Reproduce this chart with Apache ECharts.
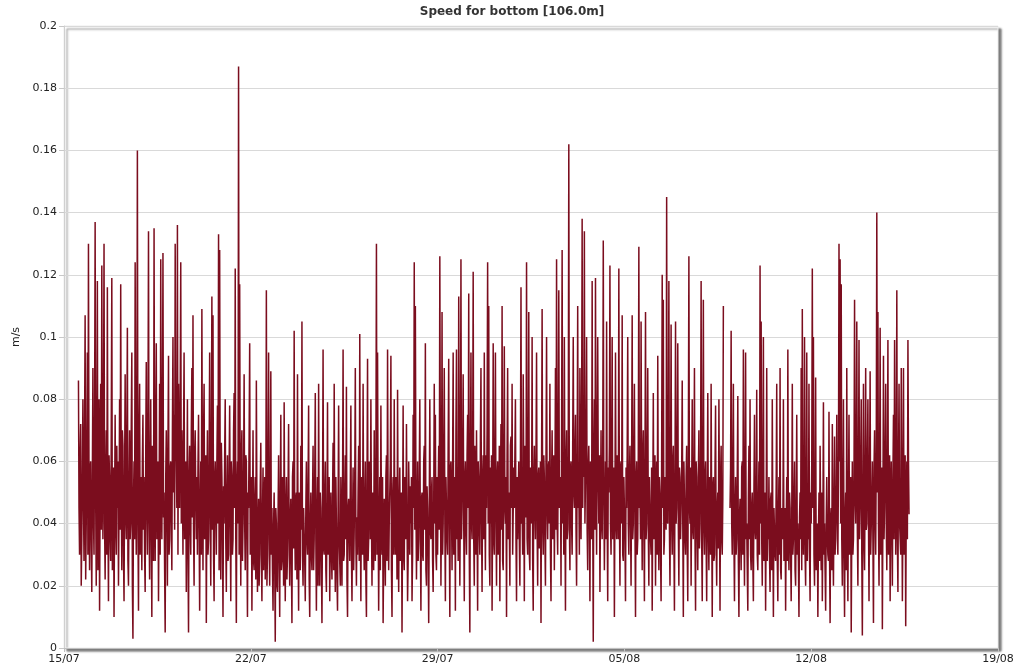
<!DOCTYPE html>
<html>
<head>
<meta charset="utf-8">
<script src="https://cdn.jsdelivr.net/npm/echarts@6/dist/echarts.min.js"></script>
<style>html,body{margin:0;padding:0;background:#fff}#chart{width:1024px;height:670px}</style>
</head>
<body>
<div id="chart"></div>
<script>
// Speed (mm/s), half-hourly samples, first sample 15/07 13:00.
// weekN holds the on-the-hour samples, weekNHalf the samples at half past.
const firstDayLabel = Date.UTC(2015, 6, 15);
const startHour = 13;
const stepHours = 0.5;
const xTickDays = [0, 7, 14, 21, 28, 35];
const yTicks = [0, 0.02, 0.04, 0.06, 0.08, 0.1, 0.12, 0.14, 0.16, 0.18, 0.2];

const week1 = [
  86,30,72,35,80,28,107,40,95,130,25,
  60,18,90,30,137,20,118,45,12,85,123,35,130,22,70,116,15,55,28,119,40,10,75,30,
  45,20,80,117,25,65,15,88,35,103,20,70,40,95,3,60,124,30,160,12,85,40,25,75,
  55,18,92,30,134,22,80,10,60,135,28,98,40,15,85,125,35,127,50,5,70,20,94,35,
  60,25,100,75,130,60,136,85,45,124,70,30,95,40,18,80,5,65,30,90,107,20,70,35,
  30,75,12,60,109,25,85,40,8,70,35,95,20,113,107,15,60,30,78,133,128,22,55,10,
  40,80,18,62,30,78,15,55,35,82,122,8,60,187,117,20,70,40,88,25,60,10,45,98
];
const week1Half = [
  45,62,20,55,48,70,22,65,30,50,58,
  35,55,42,70,48,60,25,80,50,38,60,72,40,55,30,45,62,35,70,25,58,45,40,65,
  60,45,38,50,70,30,55,42,68,28,50,35,72,20,48,35,55,62,40,68,30,55,60,38,
  30,62,45,70,40,55,38,65,28,50,72,35,60,45,30,58,70,42,25,55,48,65,30,58,
  40,70,50,38,65,45,30,62,80,40,55,68,35,60,45,32,55,40,70,42,38,62,48,55,
  58,40,45,30,55,68,35,62,48,30,58,42,65,38,30,55,45,60,40,25,48,66,35,52,
  62,35,48,28,58,40,60,30,70,45,35,52,40,30,48,62,28,55,40,62,35,50,68,30
];
const week2 = [
  35,12,70,25,55,86,18,48,30,66,15,58,40,22,115,30,95,20,89,45,12,50,2,40,
  18,62,10,75,28,45,79,15,55,30,72,20,48,8,60,102,25,50,88,12,40,65,105,20,
  45,15,60,30,78,10,50,25,65,35,82,12,55,85,20,45,8,96,30,60,18,79,40,15,
  50,22,66,85,18,40,12,78,35,55,20,96,30,62,84,10,48,28,78,15,58,38,90,20,
  30,65,101,15,50,85,25,60,10,93,35,55,80,20,45,70,28,130,95,12,55,78,30,8,
  48,20,62,96,25,40,94,10,55,80,30,48,83,18,58,35,5,78,25,50,72,15,60,30,
  40,15,75,124,110,22,60,35,80,12,50,28,65,98,20,45,8,80,35,55,18,85,75,25
];
const week2Half = [
  55,40,28,48,22,45,38,20,52,30,42,25,55,40,20,58,35,48,30,25,40,28,45,20,
  42,30,48,25,55,20,38,45,22,50,35,42,28,55,32,40,48,22,35,50,25,38,30,45,
  28,45,35,52,22,40,30,48,25,55,35,42,20,38,50,28,45,32,48,25,42,30,55,38,
  30,48,25,40,55,22,45,35,20,42,50,28,48,35,22,45,38,52,30,40,25,55,35,42,
  50,28,40,55,30,38,45,22,52,28,60,35,42,50,25,40,58,30,45,38,25,42,55,30,
  35,55,28,45,40,60,25,48,30,42,55,22,38,45,28,50,40,30,55,35,42,28,45,52,
  55,30,45,38,50,42,28,55,35,48,30,60,38,25,52,30,45,38,50,28,45,40,30,55
];
const week3 = [
  30,65,126,20,108,40,90,15,55,30,93,10,60,25,95,40,12,96,50,113,20,125,45,88,
  15,60,30,75,114,5,95,35,121,20,48,70,12,55,30,90,18,62,95,25,45,124,110,20,
  40,12,98,30,95,20,60,35,15,72,110,25,97,40,10,90,50,20,68,85,30,45,80,15,
  35,60,20,116,45,88,15,55,124,30,108,25,50,100,12,65,35,95,20,58,40,8,109,30,
  55,20,100,35,60,85,15,70,40,25,90,125,30,115,45,20,128,55,100,12,70,38,162,25,
  60,30,100,45,75,20,110,55,90,35,138,70,134,40,100,25,65,15,50,118,2,80,119,30,
  100,40,18,70,35,131,25,60,105,15,50,123,30,100,45,10,95,35,55,122,20,60,107,28
];
const week3Half = [
  50,38,60,45,30,62,42,55,35,65,40,58,45,60,30,55,70,35,28,60,48,35,62,40,
  55,38,62,45,30,60,40,58,35,65,30,42,60,38,68,40,55,35,48,62,70,40,30,58,
  62,45,35,60,42,55,30,65,50,38,28,60,45,55,62,35,40,65,45,30,58,62,35,55,
  48,35,62,40,30,55,65,42,35,60,30,58,40,28,55,45,62,38,55,32,60,58,40,62,
  35,62,45,58,40,30,55,35,62,50,38,40,65,45,55,68,40,30,45,60,35,62,40,58,
  40,65,50,62,38,58,45,30,60,70,45,55,40,65,38,58,42,60,35,45,62,38,55,65,
  55,62,45,40,60,50,45,35,42,58,65,40,62,35,58,48,40,62,35,45,58,40,30,55
];
const week4 = [
  55,15,45,100,30,65,20,107,40,85,10,60,35,129,50,105,25,70,15,108,40,90,20,55,
  30,12,82,40,20,60,94,25,50,15,120,112,35,55,145,40,118,20,104,30,65,12,105,45,
  98,20,55,35,86,10,48,30,65,15,126,40,20,80,35,90,12,55,25,70,40,118,15,112,
  30,60,15,82,25,45,85,10,55,30,78,20,50,80,12,65,30,110,null,null,null,null,null,45,
  102,30,85,15,55,35,81,10,48,25,60,96,20,95,40,12,65,80,25,50,15,75,35,83,
  25,60,123,105,20,100,35,12,90,40,55,18,50,80,10,45,28,85,15,55,90,22,40,80,
  30,12,55,96,25,45,15,85,35,60,20,75,40,10,50,90,109,30,100,20,95,40,85,15
];
const week4Half = [
  35,58,62,40,55,42,60,35,62,40,55,30,62,45,35,55,62,40,58,35,60,38,55,35,
  58,45,35,62,48,30,42,55,30,62,45,30,55,38,42,62,38,55,40,60,35,55,40,62,
  40,58,35,55,40,60,35,55,32,62,45,58,50,38,55,35,60,38,55,32,58,35,55,40,
  55,35,48,38,55,30,42,52,28,58,35,45,32,45,55,35,48,null,null,null,null,null,null,58,
  40,55,35,45,30,55,28,42,35,58,30,40,52,35,25,48,35,30,45,28,50,38,45,30,
  45,30,40,35,55,28,50,40,28,35,30,48,25,38,45,30,52,28,42,30,25,45,35,28,
  45,38,28,35,50,30,42,30,48,25,45,30,28,42,35,25,40,45,30,48,28,35,30,50
];
const week5 = [
  40,122,100,20,87,35,10,50,65,25,15,79,40,12,55,30,76,8,45,72,20,68,30,75,
  30,130,125,117,20,80,10,50,90,15,75,30,5,60,35,112,40,105,20,99,45,80,4,85,
  25,90,40,80,15,89,30,60,8,70,30,140,108,20,103,35,6,94,45,85,25,99,40,15,
  60,20,75,99,30,115,18,85,35,90,15,90,45,7,60,99,43
];
const week5Half = [
  60,45,30,48,25,40,35,28,42,50,38,30,25,40,35,28,30,42,25,35,45,30,48,35,
  55,60,40,35,48,30,42,25,35,48,30,55,38,30,55,48,62,38,55,35,60,30,48,35,
  55,38,60,42,55,30,48,35,58,42,62,50,40,55,30,58,45,35,62,40,55,30,62,48,
  38,55,35,60,50,35,58,40,30,55,42,30,62,45,35,60
];

const weekPairs = [
  [week1, week1Half], [week2, week2Half], [week3, week3Half],
  [week4, week4Half], [week5, week5Half]
];
const speedMm = [];
weekPairs.forEach(([onHour, halfPast]) => {
  onHour.forEach((v, i) => {
    speedMm.push(v);
    if (i < halfPast.length) speedMm.push(halfPast[i]);
  });
});
const seriesData = speedMm.map((v, i) => [
  (startHour + i * stepHours) / 24,
  v === null ? '-' : v / 1000
]);

function dayLabel(d) {
  const t = new Date(firstDayLabel + d * 86400000);
  const dd = String(t.getUTCDate()).padStart(2, '0');
  const mm = String(t.getUTCMonth() + 1).padStart(2, '0');
  return dd + '/' + mm;
}

const FONT = 'DejaVu Sans, Verdana, sans-serif';
const chart = echarts.init(document.getElementById('chart'), null, { renderer: 'canvas' });
chart.setOption({
  animation: false,
  backgroundColor: '#fff',
  title: {
    text: 'Speed for bottom [106.0m]',
    left: 'center',
    top: 6,
    padding: 0,
    textStyle: { fontFamily: FONT, fontSize: 12, fontWeight: 'bold', color: '#333' }
  },
  grid: {
    left: 64, right: 26, top: 26, bottom: 22,
    show: true,
    backgroundColor: '#fff',
    borderColor: '#ececec',
    borderWidth: 1,
    shadowColor: 'rgba(0,0,0,0.5)',
    shadowBlur: 2,
    shadowOffsetX: 3,
    shadowOffsetY: 3
  },
  xAxis: {
    type: 'value',
    min: xTickDays[0],
    max: xTickDays[xTickDays.length - 1],
    interval: 7,
    splitLine: { show: false },
    axisLine: { show: true, lineStyle: { color: '#c0c0c0', width: 1 } },
    axisTick: { show: true, length: 4, lineStyle: { color: '#c0c0c0' } },
    axisLabel: {
      margin: 6,
      fontFamily: FONT, fontSize: 11, color: '#222',
      formatter: v => dayLabel(v)
    }
  },
  yAxis: {
    type: 'value',
    min: yTicks[0],
    max: yTicks[yTicks.length - 1],
    interval: 0.02,
    name: 'm/s',
    nameLocation: 'middle',
    nameGap: 42,
    nameTextStyle: { fontFamily: FONT, fontSize: 11, color: '#222' },
    axisLine: { show: true, lineStyle: { color: '#d0d0d0' } },
    axisTick: { show: true, length: 5, lineStyle: { color: '#c8c8c8' } },
    splitLine: { show: true, lineStyle: { color: '#d9d9d9', width: 1 } },
    axisLabel: {
      margin: 7,
      fontFamily: FONT, fontSize: 11, color: '#222',
      formatter: v => String(+v.toFixed(2))
    }
  },
  series: [{
    type: 'line',
    data: seriesData,
    showSymbol: false,
    connectNulls: false,
    sampling: null,
    lineStyle: { color: '#7b0d1e', width: 1.5 },
    itemStyle: { color: '#7b0d1e' }
  }]
});
</script>
</body>
</html>
